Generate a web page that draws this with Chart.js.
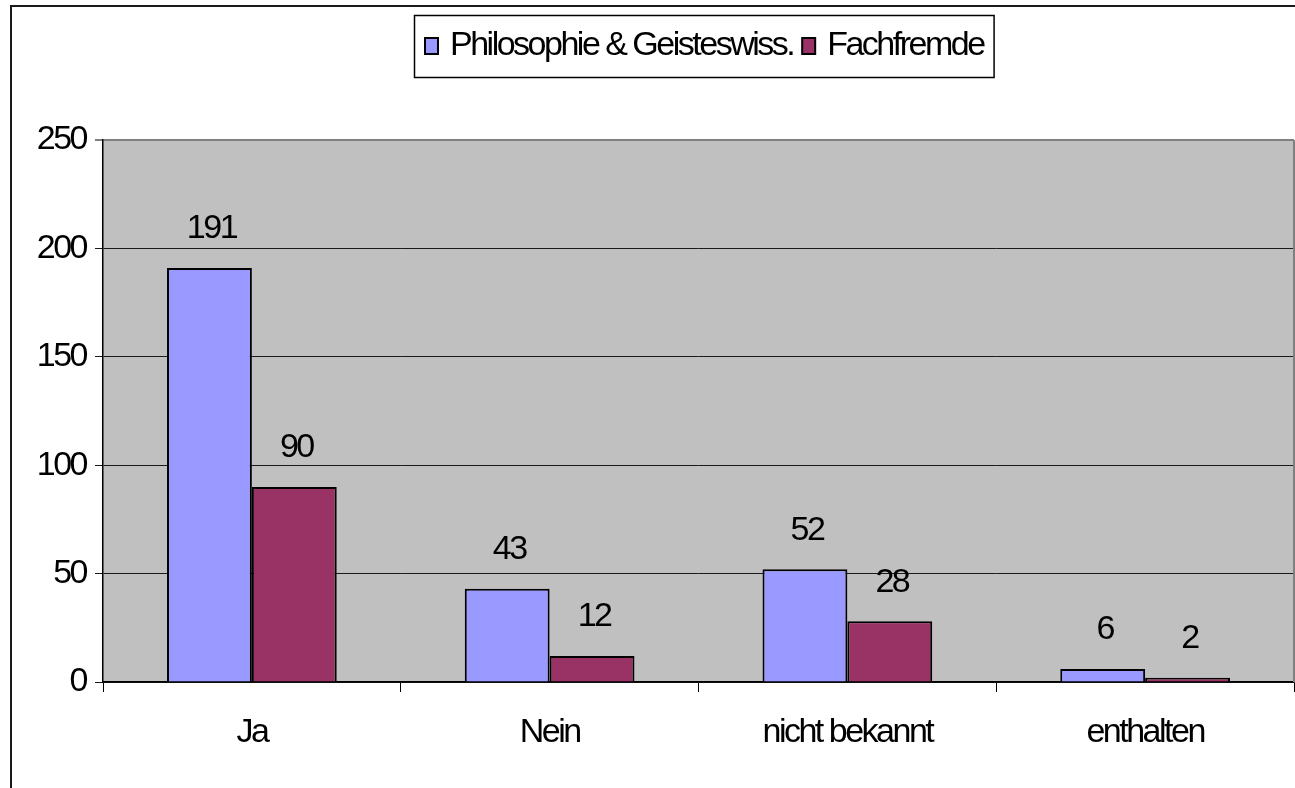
<!DOCTYPE html>
<html>
<head>
<meta charset="utf-8">
<script src="https://cdn.jsdelivr.net/npm/chart.js@4/dist/chart.umd.min.js"></script>
<style>
html,body{margin:0;padding:0;background:#fff;overflow:hidden;}
canvas{display:block;}
</style>
</head>
<body>
<canvas id="c" width="1295" height="788"></canvas>
<script>
const categories = ["Ja", "Nein", "nicht bekannt", "enthalten"];
const seriesNames = ["Philosophie & Geisteswiss.", "Fachfremde"];
const philosophie = [191, 43, 52, 6];
const fachfremde = [90, 12, 28, 2];
const yTicks = [0, 50, 100, 150, 200, 250];

const FONT_FAMILY = "'Liberation Sans Narrow', 'Liberation Sans', Arial, sans-serif";
const FONT_SIZE = 34;
const LETTER_SPACING = '-2.5px';

const bgPlugin = {
  id: 'bg',
  beforeLayout(chart) { chart.ctx.letterSpacing = LETTER_SPACING; },
  beforeDraw(chart) {
    const {ctx, chartArea: a} = chart;
    ctx.letterSpacing = LETTER_SPACING;
    ctx.save();
    ctx.fillStyle = '#fff';
    ctx.fillRect(0, 0, chart.width, chart.height);
    ctx.fillStyle = '#C0C0C0';
    ctx.fillRect(a.left, a.top, a.right - a.left, a.bottom - a.top);
    ctx.strokeStyle = '#1a1a1a';
    ctx.lineWidth = 2;
    ctx.beginPath();
    ctx.moveTo(11, chart.height + 5);
    ctx.lineTo(11, 6);
    ctx.lineTo(chart.width + 5, 6);
    ctx.stroke();
    ctx.restore();
  },
  afterDatasetsDraw(chart) {
    const {ctx, chartArea: a} = chart;
    ctx.save();
    ctx.strokeStyle = '#808080';
    ctx.lineWidth = 2;
    ctx.beginPath();
    ctx.moveTo(a.right, a.top);
    ctx.lineTo(a.right, a.bottom);
    ctx.stroke();
    ctx.fillStyle = '#000';
    ctx.font = FONT_SIZE + 'px ' + FONT_FAMILY;
    ctx.textAlign = 'center';
    ctx.textBaseline = 'middle';
    chart.data.datasets.forEach((ds, i) => {
      const meta = chart.getDatasetMeta(i);
      meta.data.forEach((bar, j) => {
        ctx.fillText(String(ds.data[j]), bar.x + 2, bar.y - 39);
      });
    });
    ctx.restore();
  },
  afterDraw(chart) {
    const {ctx} = chart;
    ctx.save();
    ctx.font = FONT_SIZE + 'px ' + FONT_FAMILY;
    ctx.textBaseline = 'middle';
    ctx.textAlign = 'left';
    const boxLeft = 414, boxTop = 15, boxH = 62;
    let x = 425;
    const items = chart.data.datasets.map(d => ({label: d.label, color: d.backgroundColor}));
    const parts = [];
    items.forEach((it) => {
      const w = ctx.measureText(it.label).width;
      parts.push({x, it, w});
      x += 13 + 12 + w + 9;
    });
    const boxRight = x - 9 + 10;
    ctx.fillStyle = '#fff';
    ctx.fillRect(boxLeft, boxTop, boxRight - boxLeft, boxH);
    ctx.strokeStyle = '#000';
    ctx.lineWidth = 1.5;
    ctx.strokeRect(boxLeft + 0.5, boxTop + 0.5, boxRight - boxLeft, boxH);
    const cy = 46;
    parts.forEach(p => {
      ctx.fillStyle = p.it.color;
      ctx.fillRect(p.x, cy - 8, 13, 16);
      ctx.strokeStyle = '#000';
      ctx.lineWidth = 2;
      ctx.strokeRect(p.x, cy - 8, 13, 16);
      ctx.fillStyle = '#000';
      ctx.fillText(p.it.label, p.x + 13 + 12, cy);
    });
    ctx.restore();
  }
};

new Chart(document.getElementById('c'), {
  type: 'bar',
  data: {
    labels: categories,
    datasets: [
      {label: seriesNames[0], data: philosophie, backgroundColor: '#9999FF', borderColor: '#000', borderWidth: 2},
      {label: seriesNames[1], data: fachfremde, backgroundColor: '#993366', borderColor: '#000', borderWidth: 2}
    ]
  },
  options: {
    responsive: false,
    devicePixelRatio: 1,
    animation: false,
    layout: {padding: {left: 0, top: 140, right: 1, bottom: 0}},
    datasets: {bar: {categoryPercentage: 0.57, barPercentage: 1.0}},
    plugins: {legend: {display: false}, tooltip: {enabled: false}},
    scales: {
      x: {
        grid: {offset: true, drawOnChartArea: false, drawTicks: true, tickLength: 10, color: '#000', lineWidth: 1},
        border: {display: true, color: '#000', width: 1.5},
        ticks: {color: '#000', padding: 20, font: {family: FONT_FAMILY, size: FONT_SIZE}, maxRotation: 0},
        afterFit(scale) { scale.height = 106; }
      },
      y: {
        min: 0, max: 250,
        afterBuildTicks(scale) { scale.ticks = yTicks.map(v => ({value: v})); },
        grid: {
          color: ctx => (ctx.tick && ctx.tick.value === 250) ? '#808080' : '#1a1a1a',
          lineWidth: ctx => (ctx.tick && ctx.tick.value === 250) ? 2 : 1,
          tickLength: 8, drawTicks: true
        },
        border: {display: true, color: '#000', width: 1.5},
        ticks: {color: '#000', padding: 9, font: {family: FONT_FAMILY, size: FONT_SIZE}},
        afterFit(scale) { scale.width = 103; }
      }
    }
  },
  plugins: [bgPlugin]
});
</script>
</body>
</html>
